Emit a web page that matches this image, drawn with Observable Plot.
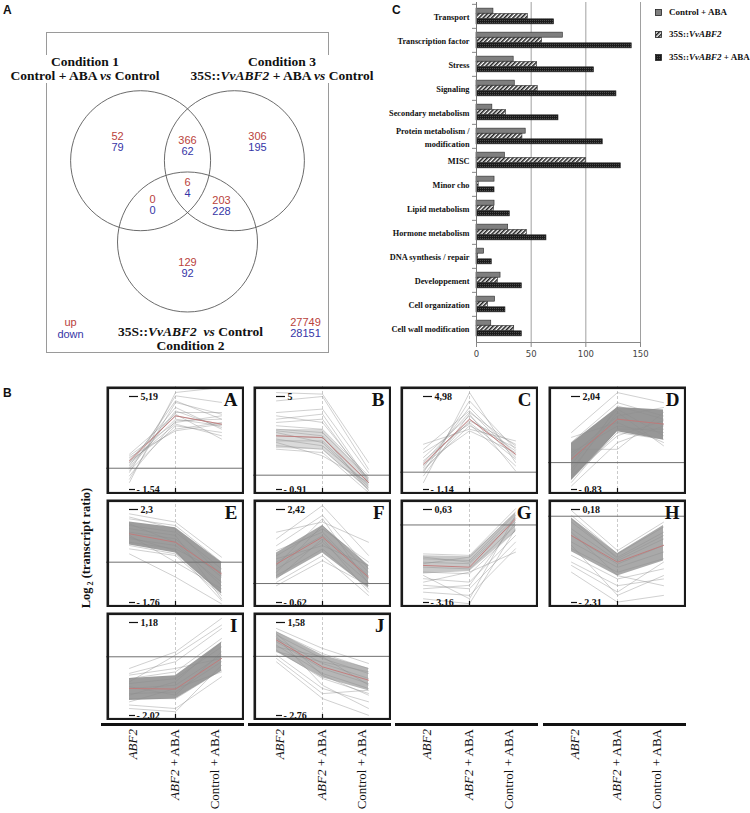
<!DOCTYPE html>
<html><head><meta charset="utf-8">
<script src="https://cdn.jsdelivr.net/npm/d3@7"></script>
<script src="https://cdn.jsdelivr.net/npm/@observablehq/plot@0.6"></script>
<style>
body{margin:0;background:#fff;}
#root{position:relative;width:750px;height:813px;overflow:hidden;background:#fff;}
.cond{font-family:"Liberation Serif",serif;font-weight:bold;font-size:13.5px;line-height:14px;text-align:center;transform:translateX(-50%);color:#111;}
.plab{font-family:"Liberation Sans",Arial,sans-serif;font-weight:bold;font-size:12px;line-height:12px;color:#111;}
.xl{font-family:"Liberation Serif",serif;font-size:13px;line-height:14px;writing-mode:vertical-rl;transform:rotate(180deg);color:#111;}
.leg{font-family:"Liberation Serif",serif;font-weight:bold;font-size:9px;line-height:10px;color:#111;}
</style></head>
<body>
<div id="root">
<svg width="0" height="0" style="position:absolute">
  <defs>
    <pattern id="hatch" width="3" height="3" patternUnits="userSpaceOnUse" patternTransform="rotate(45)">
      <rect width="3" height="3" fill="#fff"/>
      <line x1="0.8" y1="0" x2="0.8" y2="3" stroke="#151515" stroke-width="1.5"/>
    </pattern>
    <pattern id="dots" width="2" height="2" patternUnits="userSpaceOnUse">
      <rect width="2" height="2" fill="#1b1b1b"/>
      <rect width="0.8" height="0.8" fill="#6a6a6a"/>
    </pattern>
  </defs>
</svg>
</div>
<script>
// ================= DATA =================
// Panel A (Venn)
const vennSets = ["Condition 1", "Condition 2", "Condition 3"];
const vennCx = [-0.67, 0, 0.67];
const vennCy = [0.387, -0.774, 0.387];
const vennRegions = ["C1 only", "C1 & C3", "C3 only", "C1 & C2 & C3", "C1 & C2", "C2 & C3", "C2 only"];
const vennUp = [52, 366, 306, 6, 0, 203, 129];
const vennDown = [79, 62, 195, 4, 0, 228, 92];
const vennLx = [-1.0, 0, 1.0, 0, -0.5, 0.486, 0];
const vennLy = [0.654, 0.6, 0.654, 0, -0.25, -0.26, -1.146];
const totalUp = 27749, totalDown = 28151;

// Panel C (bars)
const categories = ["Transport", "Transcription factor", "Stress", "Signaling", "Secondary metabolism",
  "Protein metabolism / modification", "MISC", "Minor cho", "Lipid metabolism", "Hormone metabolism",
  "DNA synthesis / repair", "Developpement", "Cell organization", "Cell wall modification"];
const categoryLabels = ["Transport", "Transcription factor", "Stress", "Signaling", "Secondary metabolism",
  "Protein metabolism /\nmodification", "MISC", "Minor cho", "Lipid metabolism", "Hormone metabolism",
  "DNA synthesis / repair", "Developpement", "Cell organization", "Cell wall modification"];
const seriesNames = ["Control + ABA", "35S::VvABF2", "35S::VvABF2 + ABA"];
const controlABA = [15.5, 79, 34, 35, 14.5, 45, 26, 16.5, 16.5, 29, 7, 22, 17, 13.5];
const vvABF2 = [47, 60, 55.5, 56, 27, 42, 100, 2, 16, 46, 1.5, 19.5, 10.5, 34.5];
const vvABF2ABA = [71, 142, 107.5, 128, 75, 115.5, 132, 16.5, 30.5, 64, 14, 41.5, 26.5, 41.5];
const xTicks = [0, 50, 100, 150];

// Panel B (expression profiles)
const clusters = ["A", "B", "C", "D", "E", "F", "G", "H", "I", "J"];
const conditions = ["ABF2", "ABF2 + ABA", "Control + ABA"];
const yMax = [5.19, 5, 4.98, 2.04, 2.3, 2.42, 0.63, 0.18, 1.18, 1.58];
const yMin = [-1.54, -0.91, -1.14, -0.83, -1.76, -0.62, -3.16, -2.31, -2.02, -2.76];

const profilesA = [[-1.03,5.48,5.84],[-0.3,5.24,4.76],[0.18,4.88,3.55],[0.42,4.4,2.83],[-0.06,4.03,4.03],
  [0.66,3.79,3.19],[0.30,3.55,3.07],[0.90,3.31,3.79],[-0.18,3.07,2.59],[0.54,2.83,3.31],[1.02,3.91,2.11],
  [-0.55,3.43,3.55],[0.06,4.15,2.95],[0.78,2.71,3.19],[-0.79,4.76,3.91],[0.42,3.19,2.35]];
const profilesB = [[5.25,5.15,0.81],[4.72,5.0,0.38],[3.98,4.2,0.17],[3.77,3.35,-0.25],[3.35,3.56,-0.46],
  [2.92,2.71,-0.15],[2.5,2.39,-0.46],[2.18,2.18,-0.68],[1.87,1.65,-0.89],[2.71,2.07,-0.78],[1.65,1.44,-1.1],
  [3.14,2.92,-0.04],[2.29,1.87,-0.57],[3.56,3.88,-0.36],[2.82,2.5,-0.99],[2.08,1.23,-0.46]];
const profilesC = [[-0.68,5.24,0.64],[-0.02,4.69,1.51],[0.31,4.26,1.18],[0.64,3.93,1.73],[0.97,3.71,0.96],
  [0.42,3.49,1.40],[0.75,3.27,0.86],[0.2,3.05,1.62],[1.84,2.83,2.06],[1.29,3.16,0.42],[-0.24,3.82,0.09],
  [0.53,2.72,1.29],[1.51,4.04,1.07],[0.09,3.38,1.84]];
const profilesD = [[0.93,2.16,1.85],[-0.72,0.62,1.13],[0.63,1.85,1.44],[-0.51,0.93,0.72],[0.41,0.41,1.55],
  [-0.2,1.55,0.52],[0.11,1.34,1.19],[0.31,1.13,0.93],[-0.31,1.75,1.34],[0.78,1.24,0.62],[-0.61,1.03,1.03],
  [-0.05,1.65,0.83],[0.21,1.44,1.70],[-0.41,0.83,1.29]];
const profilesE = [[2.11,1.75,0.22],[1.89,1.6,0.0],[1.6,1.31,-0.29],[1.31,1.02,-0.65],[1.02,0.73,-0.87],
  [0.73,0.36,-1.31],[0.36,-0.65,-1.82],[1.46,1.17,-1.6],[1.17,0.0,-1.16],[0.87,0.58,-0.44],[0.58,0.29,-1.45],
  [1.67,0.87,-1.02],[1.97,1.46,-0.58],[1.09,0.51,-1.67]];
const profilesF = [[1.68,2.01,1.35],[1.46,2.55,0.92],[1.24,2.23,0.48],[0.91,1.79,0.70],[0.70,1.57,0.26],
  [0.48,1.35,0.04],[0.26,1.13,-0.17],[0.04,0.91,-0.39],[-0.07,0.75,-0.07],[1.08,1.68,0.15],[0.37,1.9,0.37],
  [0.81,1.24,0.59],[0.15,1.46,-0.28],[0.59,2.12,-0.01]];
const profilesG = [[-1.18,-1.24,0.66],[-1.38,-1.45,0.45],[-1.52,-1.58,0.18],[-1.72,-1.79,-0.02],[-1.92,-1.99,-0.23],
  [-2.19,-2.33,-0.43],[-2.46,-2.6,-0.7],[-2.74,-2.87,-0.97],[-3.01,-3.21,-0.16],[-2.06,-3.01,0.39],
  [-2.33,-1.92,-1.11],[-1.31,-1.52,0.31],[-2.6,-2.46,0.11],[-1.58,-1.31,0.52]];
const profilesH = [[0.15,-0.92,-0.16],[0.02,-1.01,-0.29],[-0.16,-1.1,-0.43],[-0.34,-1.19,-0.61],[-0.52,-1.28,-0.78],
  [-0.69,-1.37,-0.96],[-0.87,-1.5,-1.14],[-1.05,-1.68,-1.41],[-1.23,-1.86,-1.68],[-1.5,-2.3,-2.12],
  [-0.78,-2.12,-1.59],[-0.43,-1.59,-1.86],[-0.07,-1.14,-0.52],[-1.32,-2.03,-1.23]];
const profilesI = [[-0.40,0.17,1.32],[-0.57,-0.17,0.97],[-0.75,-0.52,0.63],[-0.92,-0.75,0.34],[-1.09,-0.98,0.06],
  [-1.27,-1.21,-0.17],[-1.44,-1.44,-0.46],[-1.66,-1.78,-0.69],[-1.78,-1.89,-0.29],[-0.86,0.06,1.09],
  [-1.32,-0.86,0.51],[-1.03,-1.32,0.17],[-1.55,-1.09,-0.52],[-0.63,-0.4,-0.06]];
const profilesJ = [[1.3,0.37,-0.33],[1.14,0.13,-0.57],[0.99,-0.1,-0.8],[0.83,-0.33,-1.03],[0.68,-0.57,-1.27],
  [0.52,-0.8,-1.5],[0.29,-1.03,-1.73],[0.06,-1.5,-2.12],[-0.26,-1.97,-2.75],[0.91,-1.35,-2.43],
  [0.21,-0.26,-0.72],[1.06,-0.88,-1.81],[0.44,-0.02,-1.34],[-0.1,-1.74,-1.58]];
const profiles = [profilesA, profilesB, profilesC, profilesD, profilesE, profilesF, profilesG, profilesH, profilesI, profilesJ];
const means = [[0.54,3.79,3.19],[2.5,2.39,-0.46],[0.53,3.49,1.18],[0.11,1.34,1.19],[1.24,0.87,-0.51],
  [0.64,1.52,0.21],[-1.65,-1.72,0.25],[-0.52,-1.23,-0.78],[-1.09,-1.11,-0.06],[0.76,-0.49,-1.11]];
// dense core of each cluster (low / high at each condition)
const bandLo = [null,[1.7,1.6,-0.95],null,[-0.55,0.95,0.7],[0.75,0.4,-1.4],[0.15,1.0,-0.15],[-2.0,-1.9,-0.3],[-0.95,-1.6,-1.2],[-1.5,-1.45,-0.5],[0.2,-1.0,-1.6]];
const bandHi = [null,[2.9,2.9,-0.2],null,[0.6,1.7,1.62],[1.75,1.5,0.0],[1.0,1.9,0.6],[-1.25,-1.3,0.5],[-0.05,-1.0,-0.25],[-0.75,-0.65,0.5],[1.15,0.05,-0.55]];
const bandOpacity = [0, 0.3, 0, 0.85, 0.8, 0.7, 0.45, 0.7, 0.8, 0.6];

// ================= HELPERS =================
const root = document.getElementById("root");
function addHTML(h, css, cls) {
  const d = document.createElement("div");
  d.innerHTML = h;
  d.style.cssText = "position:absolute;white-space:nowrap;" + css;
  if (cls) d.className = cls;
  root.appendChild(d);
  return d;
}
function addPlot(svg, left, top) {
  svg.style.position = "absolute";
  svg.style.left = left + "px";
  svg.style.top = top + "px";
  svg.style.background = "transparent";
  root.appendChild(svg);
  return svg;
}
const RED = "#b9423c", BLUE = "#3535a6";
const SERIF = "Liberation Serif, serif";
const SANS = "Liberation Sans, Arial, sans-serif";

// ================= PANEL A : VENN =================
addHTML("A", "left:3px;top:3.5px;", "plab");
addHTML("", "left:46px;top:32px;width:281px;height:319px;border:1px solid #9a9a9a;");
addHTML("Condition 1<br>Control + ABA <i>vs</i> Control", "left:85px;top:55px;background:#fff;", "cond");
addHTML("Condition 3<br>35S::<i>VvABF2</i> + ABA <i>vs</i> Control", "left:282px;top:55px;background:#fff;", "cond");
addHTML("35S::<i>VvABF2</i>&nbsp; <i>vs</i> Control<br>Condition 2", "left:190.5px;top:325px;", "cond");

const vennUnit = 70, vennOx = 187, vennOy = 187.3, vennW = 370, vennH = 360;
const vennData = vennRegions.map((r, i) => ({r, x: vennLx[i], y: vennLy[i], up: vennUp[i], down: vennDown[i]}));
const circleData = vennSets.map((s, i) => ({s, x: vennCx[i], y: vennCy[i]}));
const numStyle = {fontSize: 11, fontFamily: SANS};
const half = 5.6;
const vennPlot = Plot.plot({
  width: vennW, height: vennH, margin: 0,
  x: {domain: [-vennOx / vennUnit, (vennW - vennOx) / vennUnit], range: [0, vennW], axis: null},
  y: {domain: [(vennOy - vennH) / vennUnit, vennOy / vennUnit], range: [vennH, 0], axis: null},
  marks: [
    Plot.dot(circleData, {x: "x", y: "y", r: vennUnit, stroke: "#5a5a5a", strokeWidth: 0.9, fill: "none"}),
    Plot.text(vennData, {x: "x", y: "y", text: d => String(d.up), dy: -half, fill: RED, ...numStyle}),
    Plot.text(vennData, {x: "x", y: "y", text: d => String(d.down), dy: half, fill: BLUE, ...numStyle}),
    Plot.text([{x: 1.686, y: -2.003}], {x: "x", y: "y", text: () => String(totalUp), dy: -half, fill: RED, ...numStyle}),
    Plot.text([{x: 1.686, y: -2.003}], {x: "x", y: "y", text: () => String(totalDown), dy: half, fill: BLUE, ...numStyle}),
    Plot.text([{x: -1.671, y: -2.01}], {x: "x", y: "y", text: () => "up", dy: -half, fill: RED, ...numStyle}),
    Plot.text([{x: -1.671, y: -2.01}], {x: "x", y: "y", text: () => "down", dy: half, fill: BLUE, ...numStyle})
  ]
});
addPlot(vennPlot, 0, 0);

// ================= PANEL C : BARS =================
addHTML("C", "left:392px;top:3.5px;", "plab");
const bcTop = 2, bcBottom = 342, bcW = 300, bcH = 370, bcLeft = 360;
const bandStep = (bcBottom - bcTop) / categories.length;
const barH = bandStep * 0.22, barPad = (bandStep - 3 * barH) / 2;
const seriesFill = ["#7f7f7f", "url(#hatch)", "url(#dots)"];
const seriesValues = [controlABA, vvABF2, vvABF2ABA];
const barMarks = seriesValues.map((vals, k) =>
  Plot.barX(categories.map((c, i) => ({c, s: seriesNames[k], v: vals[i]})), {
    y: "c", x: "v", fill: seriesFill[k], stroke: "#2a2a2a", strokeWidth: 0.6,
    insetTop: barPad + k * barH, insetBottom: bandStep - barPad - (k + 1) * barH
  }));
const barPlot = Plot.plot({
  width: bcW, height: bcH, marginLeft: 476 - bcLeft, marginRight: bcW - (640 - bcLeft), marginTop: bcTop, marginBottom: bcH - bcBottom,
  x: {domain: [0, 150], axis: null, label: null},
  y: {domain: categories, padding: 0, axis: null, label: null},
  marks: [
    Plot.gridX([50, 100, 150], {stroke: "#a0a0a0", strokeOpacity: 1, strokeWidth: 1}),
    ...barMarks,
    Plot.ruleX([0], {stroke: "#777", strokeWidth: 1}),
    Plot.frame({anchor: "bottom", stroke: "#888", strokeWidth: 1}),
    Plot.axisX({ticks: xTicks, tickSize: 5, tickPadding: 3, stroke: "#888", fill: "#444", fontSize: 8.5, fontFamily: "DejaVu Sans, sans-serif", label: null}),
    Plot.axisY({tickSize: 0, tickPadding: 7, fontSize: 8.3, lineHeight: 1.5, fontWeight: "bold", fontFamily: SERIF, fill: "#111", label: null,
      tickFormat: d => categoryLabels[categories.indexOf(d)]}),
    Plot.axisY({text: null, tickSize: 4, dy: -bandStep / 2, stroke: "#888", label: null})
  ]
});
addPlot(barPlot, bcLeft, 0);

// legend
const legY = [8.5, 30.5, 53.5];
const legText = ["Control + ABA", "35S::<i>VvABF2</i>", "35S::<i>VvABF2</i> + ABA"];
seriesNames.forEach((s, k) => {
  addHTML(`<svg width="7" height="7"><rect x="0.5" y="0.5" width="6" height="6" fill="${seriesFill[k]}" stroke="#222" stroke-width="0.8"/></svg>`,
    `left:655px;top:${legY[k]}px;line-height:0;`);
  addHTML(legText[k], `left:669px;top:${legY[k] - 1.5}px;`, "leg");
});

// ================= PANEL B : PROFILES =================
addHTML("B", "left:3px;top:386.5px;", "plab");
addHTML("Log<sub style='font-size:8px'> 2</sub> (transcript ratio)",
  "left:86.5px;top:548px;transform:translate(-50%,-50%) rotate(-90deg);font-family:'Liberation Serif',serif;font-weight:bold;font-size:12.5px;color:#111;");

const colLeft = [106, 253, 400, 548], rowTop = [386, 499, 612];
const panelW = 138, panelH = 108;
const fmt = v => String(v).replace(".", ",");
const fmtMin = v => "- " + fmt(Math.abs(v));
let xScales = [];

clusters.forEach((name, i) => {
  const col = i % 4, row = Math.floor(i / 4);
  const lineData = profiles[i].flatMap((p, j) => p.map((v, k) => ({id: j, cond: conditions[k], v})));
  const meanData = means[i].map((v, k) => ({cond: conditions[k], v}));
  const bandData = bandLo[i] ? conditions.map((c, k) => ({cond: c, lo: bandLo[i][k], hi: bandHi[i][k]})) : [];
  const p = Plot.plot({
    width: panelW, height: panelH, margin: 0,
    x: {type: "point", domain: conditions, range: [0, panelW], axis: null},
    y: {domain: [yMin[i], yMax[i]], range: [panelH - 5, 10], axis: null},
    marks: [
      Plot.ruleX([conditions[1]], {stroke: "#bdbdbd", strokeDasharray: "3,2", strokeWidth: 0.8}),
      Plot.areaY(bandData, {x: "cond", y1: "lo", y2: "hi", fill: "#858585", fillOpacity: bandOpacity[i], clip: true}),
      Plot.line(lineData, {x: "cond", y: "v", z: "id", stroke: "#8e8e8e", strokeOpacity: 0.6, strokeWidth: 0.7, clip: true}),
      Plot.line(meanData, {x: "cond", y: "v", stroke: "#c27878", strokeWidth: 0.9, clip: true}),
      Plot.ruleY([0], {stroke: "#707070", strokeWidth: 1}),
      Plot.ruleY([yMax[i]], {x1: () => conditions[0], x2: () => conditions[0], insetRight: -9, stroke: "#111", strokeWidth: 1.2}),
      Plot.ruleY([yMin[i]], {x1: () => conditions[0], x2: () => conditions[0], insetRight: -6, stroke: "#111", strokeWidth: 1.2}),
      Plot.ruleX([conditions[1]], {y1: yMin[i], y2: yMin[i], insetTop: -1, insetBottom: -5, stroke: "#111", strokeWidth: 1.2}),
      Plot.text([yMax[i]], {x: () => conditions[0], y: d => d, text: d => fmt(d), dx: 11, textAnchor: "start",
        fontSize: 10, fontWeight: "bold", fontFamily: SERIF, fill: "#111"}),
      Plot.text([yMin[i]], {x: () => conditions[0], y: d => d, text: d => fmtMin(d), dx: 7, textAnchor: "start",
        fontSize: 10, fontWeight: "bold", fontFamily: SERIF, fill: "#111"}),
      Plot.text([name], {text: d => d, frameAnchor: "top-right", textAnchor: "end", lineAnchor: "top", dx: -7, dy: 6,
        fontSize: 19, fontWeight: "bold", fontFamily: SERIF, fill: "#111"}),
      Plot.frame({stroke: "#1a1a1a", strokeWidth: 2.6, inset: 1.3})
    ]
  });
  addPlot(p, colLeft[col], rowTop[row]);
  if (row === 0) xScales[col] = p.scale("x");
});

// x axis labels under each column
const labelHTML = ["<i>ABF2</i>", "<i>ABF2</i> + ABA", "Control + ABA"];
const labelShift = [4, 0, -6.5];
colLeft.forEach((left, col) => {
  addHTML("", `left:${left - 5}px;top:723px;width:${panelW + 5}px;height:3px;background:#111;`);
  conditions.forEach((c, k) => {
    const xc = left + xScales[col].apply(c) + labelShift[k];
    addHTML(labelHTML[k], `left:${xc - 7}px;top:729px;`, "xl");
  });
});
</script>
</body></html>
